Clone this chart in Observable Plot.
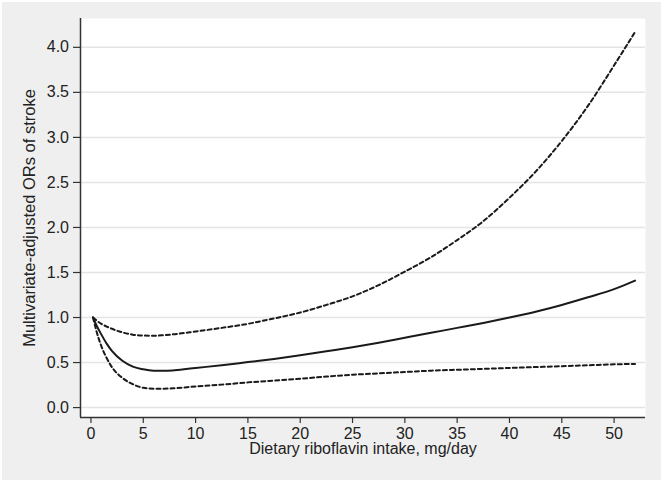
<!DOCTYPE html>
<html>
<head>
<meta charset="utf-8">
<script src="https://cdn.jsdelivr.net/npm/d3@7"></script>
<script src="https://cdn.jsdelivr.net/npm/@observablehq/plot@0.6"></script>
<style>
  html, body { margin: 0; padding: 0; background: #ffffff; }
  #wrap { position: relative; width: 664px; height: 484px; overflow: hidden; }
  #bg { position: absolute; left: 2px; top: 2px; width: 659px; height: 478px; background: #efefef; }
  #chart { position: absolute; left: 0; top: 0; }
</style>
</head>
<body>
<div id="wrap"><div id="bg"></div><div id="chart"></div></div>
<script>
const intake = [0.2, 0.5, 1, 1.5, 2, 3, 4, 5, 6, 7, 8, 10, 12.5, 15, 17.5, 20, 22.5, 25, 27.5, 30, 32.5, 35, 37.5, 40, 42.5, 45, 47.5, 50, 52];
const orEst  = [1.0, 0.92, 0.81, 0.71, 0.63, 0.52, 0.455, 0.425, 0.41, 0.408, 0.415, 0.44, 0.47, 0.505, 0.54, 0.58, 0.625, 0.67, 0.72, 0.775, 0.83, 0.885, 0.94, 1.0, 1.065, 1.14, 1.225, 1.315, 1.41];
const lowerCI = [1.0, 0.86, 0.68, 0.55, 0.45, 0.33, 0.26, 0.22, 0.21, 0.21, 0.215, 0.235, 0.255, 0.28, 0.30, 0.32, 0.345, 0.365, 0.38, 0.395, 0.41, 0.42, 0.43, 0.44, 0.45, 0.46, 0.47, 0.48, 0.485];
const upperCI = [1.0, 0.97, 0.93, 0.90, 0.875, 0.835, 0.81, 0.80, 0.797, 0.805, 0.815, 0.845, 0.885, 0.93, 0.99, 1.055, 1.14, 1.235, 1.36, 1.51, 1.67, 1.86, 2.07, 2.33, 2.62, 2.96, 3.35, 3.80, 4.17];
const xTicks = [0, 5, 10, 15, 20, 25, 30, 35, 40, 45, 50];
const yTicks = [0, 0.5, 1, 1.5, 2, 2.5, 3, 3.5, 4];
const xDomain = [-1, 53];
const yDomain = [-0.11, 4.32];
const xTitle = "Dietary riboflavin intake, mg/day";
const yTitle = "Multivariate-adjusted ORs of stroke";

const rows = intake.map((x, i) => ({x, or: orEst[i], lo: lowerCI[i], hi: upperCI[i]}));
const font = "'Liberation Sans', Arial, sans-serif";
const ink = "#1a1a1a";
const textInk = "#222";

const chart = Plot.plot({
  width: 664,
  height: 484,
  marginLeft: 80,
  marginRight: 19,
  marginTop: 18,
  marginBottom: 67,
  style: {background: "transparent", fontFamily: font, fontSize: "16px", color: textInk},
  x: {domain: xDomain},
  y: {domain: yDomain},
  marks: [
    Plot.frame({fill: "white", stroke: null}),
    Plot.ruleY(yTicks, {stroke: "#e4e4e4", strokeWidth: 1.5}),
    Plot.axisX({ticks: xTicks, tickSize: 6, tickFormat: () => "", stroke: "#333", strokeWidth: 1.2, label: null}),
    Plot.axisY({ticks: yTicks, tickSize: 7, tickFormat: () => "", stroke: "#333", strokeWidth: 1.2, label: null}),
    Plot.text(xTicks, {x: d => d, frameAnchor: "bottom", dy: 21, text: d3.format("d"), fontSize: 16, fill: textInk}),
    Plot.text(yTicks, {y: d => d, frameAnchor: "left", textAnchor: "end", dx: -11.5, text: d3.format(".1f"), fontSize: 16, fill: textInk}),
    Plot.ruleX([xDomain[0]], {stroke: "#333", strokeWidth: 1.5}),
    Plot.ruleY([yDomain[0]], {stroke: "#333", strokeWidth: 1.5}),
    Plot.line(rows, {x: "x", y: "hi", stroke: ink, strokeWidth: 2, strokeDasharray: "4,3", curve: "monotone-x"}),
    Plot.line(rows, {x: "x", y: "lo", stroke: ink, strokeWidth: 2, strokeDasharray: "4,3", curve: "monotone-x"}),
    Plot.line(rows, {x: "x", y: "or", stroke: ink, strokeWidth: 2, curve: "monotone-x"}),
    Plot.text([xTitle], {frameAnchor: "bottom", textAnchor: "middle", dy: 36, text: d => d, fontSize: 16, fill: textInk}),
    Plot.text([yTitle], {frameAnchor: "left", textAnchor: "middle", dx: -51, rotate: -90, text: d => d, fontSize: 16.5, fill: textInk})
  ]
});
document.getElementById("chart").appendChild(chart);
</script>
</body>
</html>
